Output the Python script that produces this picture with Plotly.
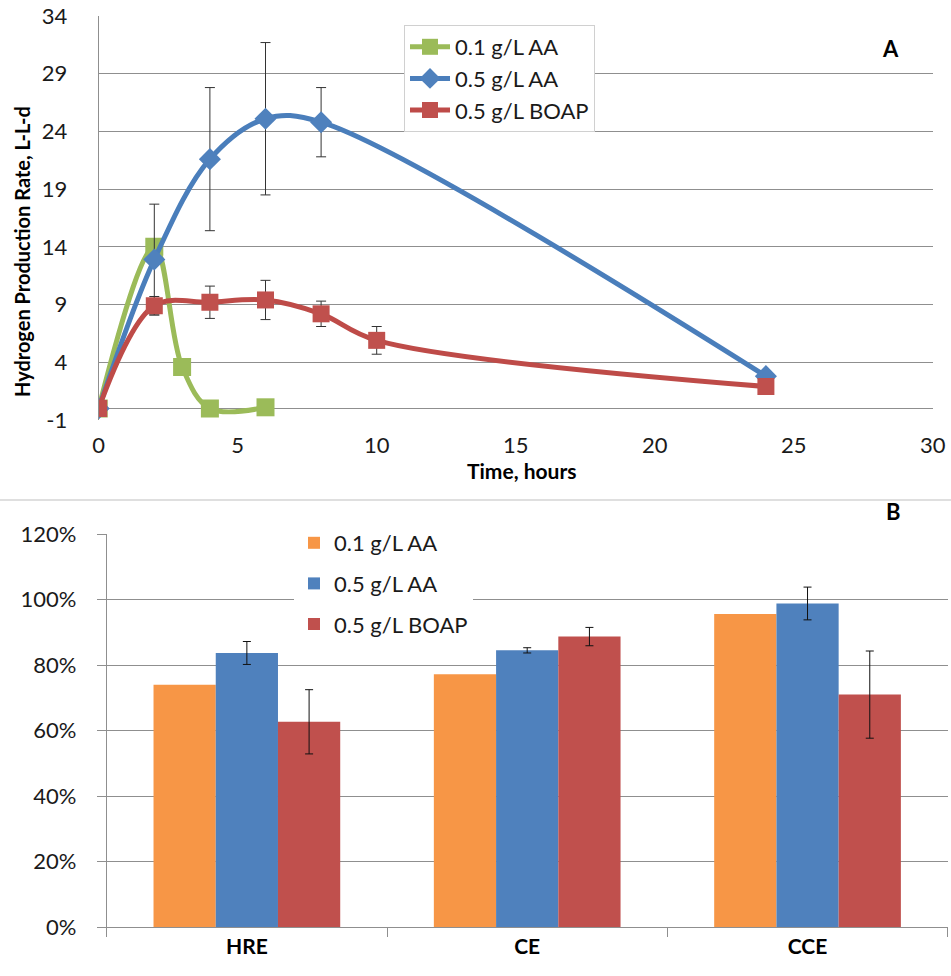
import plotly.graph_objects as go

# ---------------- Data: panel A ----------------
t_01aa = [0, 2, 3, 4, 6]
h_01aa = [0.0, 14.0, 3.6, 0.0, 0.1]

t_05aa = [0, 2, 4, 6, 8, 24]
h_05aa = [0.0, 12.9, 21.6, 25.1, 24.8, 2.8]
e_05aa = [0.0, 4.8, 6.2, 6.6, 3.0, 0.0]

t_boap = [0, 2, 4, 6, 8, 10, 24]
h_boap = [0.0, 8.9, 9.2, 9.4, 8.2, 5.9, 1.9]
e_boap = [0.0, 0.8, 1.4, 1.7, 1.1, 1.2, 0.0]

y_ticks_a = [-1, 4, 9, 14, 19, 24, 29, 34]
y_ticktext_a = ["-1", "4", "9", "14", "19", "24", "29", "34"]

# ---------------- Data: panel B ----------------
categories = ["HRE", "CE", "CCE"]
b_01aa = [0.74, 0.772, 0.956]
b_05aa = [0.837, 0.845, 0.988]
be_05aa = [0.035, 0.008, 0.05]
b_boap = [0.627, 0.887, 0.71]
be_boap = [0.098, 0.028, 0.133]

series_names = ["0.1 g/L AA", "0.5 g/L AA", "0.5 g/L BOAP"]

W, H = 951, 976
FONT = "Lato"
TXT = "#1a1a1a"
GRID = "#8f8f8f"

def px_x(p):
    return p / W

def px_y(p):
    return 1 - p / H

fig = go.Figure()

# Panel A traces
fig.add_trace(go.Scatter(
    x=t_01aa, y=h_01aa, name=series_names[0], mode="lines+markers",
    line=dict(color="#9BBB59", width=5, shape="spline", smoothing=1.0),
    marker=dict(symbol="square", size=18, color="#9BBB59"),
    xaxis="x", yaxis="y", legend="legend", legendgroup="a1"))
fig.add_trace(go.Scatter(
    x=t_05aa, y=h_05aa, name=series_names[1], mode="lines+markers",
    line=dict(color="#4A7EBB", width=5, shape="spline", smoothing=1.0),
    marker=dict(symbol="diamond", size=17, color="#4F81BD"),
    error_y=dict(type="data", array=e_05aa, color="#333333", thickness=1, width=5),
    xaxis="x", yaxis="y", legend="legend", legendgroup="a2"))
fig.add_trace(go.Scatter(
    x=t_boap, y=h_boap, name=series_names[2], mode="lines+markers",
    line=dict(color="#BE4B48", width=5, shape="spline", smoothing=1.0),
    marker=dict(symbol="square", size=17, color="#C0504D"),
    error_y=dict(type="data", array=e_boap, color="#333333", thickness=1, width=5),
    xaxis="x", yaxis="y", legend="legend", legendgroup="a3"))

# Panel B traces
fig.add_trace(go.Bar(
    x=categories, y=b_01aa, name=series_names[0], marker=dict(color="#F79646", line=dict(width=0)),
    xaxis="x2", yaxis="y2", legend="legend2", legendgroup="b1"))
fig.add_trace(go.Bar(
    x=categories, y=b_05aa, name=series_names[1], marker=dict(color="#4F81BD", line=dict(width=0)),
    error_y=dict(type="data", array=be_05aa, color="#111111", thickness=1, width=4),
    xaxis="x2", yaxis="y2", legend="legend2", legendgroup="b2"))
fig.add_trace(go.Bar(
    x=categories, y=b_boap, name=series_names[2], marker=dict(color="#C0504D", line=dict(width=0)),
    error_y=dict(type="data", array=be_boap, color="#111111", thickness=1, width=4),
    xaxis="x2", yaxis="y2", legend="legend2", legendgroup="b3"))

fig.update_layout(
    template="none",
    width=W, height=H,
    margin=dict(l=0, r=0, t=0, b=0, autoexpand=False),
    paper_bgcolor="white", plot_bgcolor="white",
    font=dict(family=FONT, size=22, color=TXT),
    barmode="group", bargap=0.334, bargroupgap=0,
    hovermode=False,
    xaxis=dict(
        domain=[px_x(98.7), px_x(932.7)], anchor="y", automargin=False,
        range=[0, 30], dtick=5, tick0=0, showgrid=False,
        zeroline=False, showline=False,
        ticks="outside", ticklen=6, tickcolor="rgba(0,0,0,0)",
        tickfont=dict(size=22, color=TXT, family=FONT),
    ),
    yaxis=dict(
        domain=[px_y(420), px_y(16)], anchor="x", automargin=False,
        range=[-1, 34], tickmode="array", tickvals=y_ticks_a, ticktext=y_ticktext_a,
        showgrid=True, gridcolor=GRID, gridwidth=1,
        zeroline=True, zerolinecolor=GRID, zerolinewidth=1,
        showline=True, linecolor=GRID, linewidth=1,
        ticks="", ticklabelstandoff=26,
        tickfont=dict(size=22, color=TXT, family=FONT),
    ),
    xaxis2=dict(
        domain=[px_x(106.7), px_x(947.7)], anchor="y2", automargin=False,
        type="category", showgrid=False, zeroline=False,
        showline=True, linecolor=GRID, linewidth=1,
        ticks="outside", tickson="boundaries", ticklen=9, tickcolor=GRID,
        tickvals=categories, ticktext=["<b>" + c + "</b>" for c in categories],
        tickfont=dict(size=21, color="#000000", family=FONT),
    ),
    yaxis2=dict(
        domain=[px_y(927.3), px_y(534)], anchor="x2", automargin=False,
        range=[0, 1.2], dtick=0.2, tickformat=".0%",
        showgrid=True, gridcolor=GRID, gridwidth=1, zeroline=False,
        showline=True, linecolor=GRID, linewidth=1,
        ticks="outside", ticklen=9, tickcolor=GRID, ticklabelstandoff=16,
        tickfont=dict(size=22, color=TXT, family=FONT),
    ),
    legend=dict(
        x=px_x(404), y=px_y(25), xanchor="left", yanchor="top",
        bgcolor="white", bordercolor="#D0D0D0", borderwidth=1,
        font=dict(size=22, color=TXT, family=FONT),
        traceorder="grouped", tracegroupgap=0, itemwidth=40,
    ),
    legend2=dict(
        x=px_x(294), y=px_y(522), xanchor="left", yanchor="top",
        bgcolor="white", borderwidth=0,
        font=dict(size=22, color=TXT, family=FONT),
        traceorder="grouped", tracegroupgap=9, itemwidth=30,
    ),
    showlegend=True,
    annotations=[
        dict(text="<b>Hydrogen Production Rate, L-L-d</b>", x=px_x(22), y=px_y(252),
             xref="paper", yref="paper", textangle=-90, showarrow=False,
             xanchor="center", yanchor="middle",
             font=dict(size=20, color="#000000", family=FONT)),
        dict(text="<b>Time, hours</b>", x=px_x(521), y=px_y(470),
             xref="paper", yref="paper", showarrow=False,
             xanchor="center", yanchor="middle",
             font=dict(size=21, color="#000000", family=FONT)),
        dict(text="<b>A</b>", x=px_x(890), y=px_y(48),
             xref="paper", yref="paper", showarrow=False,
             xanchor="center", yanchor="middle",
             font=dict(size=22, color="#000000", family=FONT)),
        dict(text="<b>B</b>", x=px_x(893), y=px_y(511),
             xref="paper", yref="paper", showarrow=False,
             xanchor="center", yanchor="middle",
             font=dict(size=22, color="#000000", family=FONT)),
    ],
    shapes=[
        dict(type="line", xref="paper", yref="paper", x0=0, x1=1,
             y0=px_y(500), y1=px_y(500), line=dict(color="#BFBFBF", width=1)),
    ],
)

fig.write_html("out.html",
               config={"displayModeBar": False},
               post_script="document.body.style.margin='0px';document.body.style.padding='0px';")
